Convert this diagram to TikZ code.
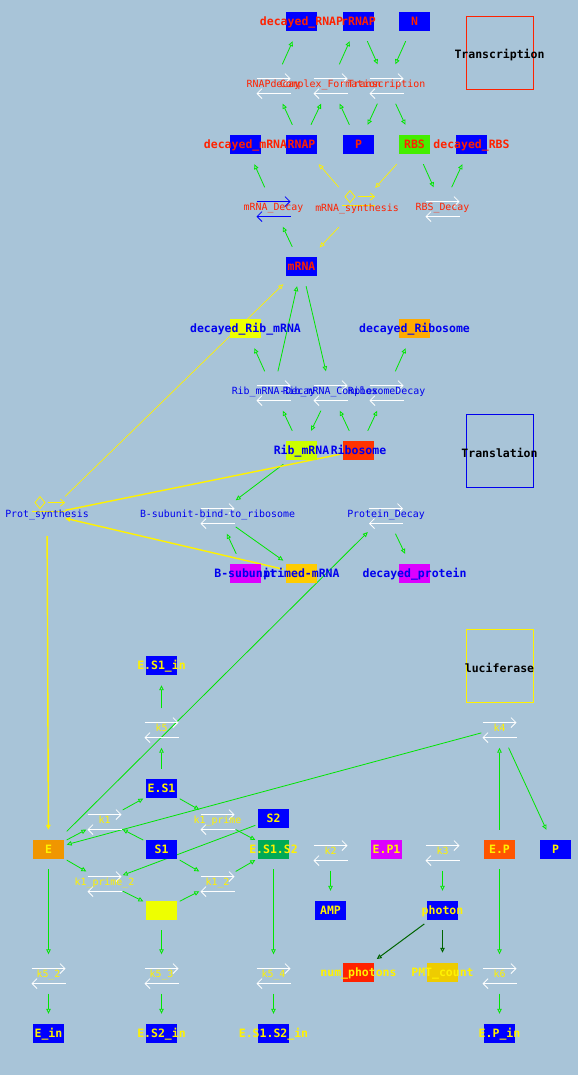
\documentclass[tikz,border=0pt]{standalone}
\usepackage{fontspec}
\setmonofont{DejaVu Sans Mono}
\usetikzlibrary{arrows.meta}
\pgfdeclarelayer{bg}
\pgfdeclarelayer{edges}
\pgfsetlayers{bg,edges,main}
\definecolor{bgc}{RGB}{168,196,216}
\definecolor{txred}{RGB}{255,34,0}
\definecolor{txblue}{RGB}{0,0,238}
\definecolor{boxblue}{RGB}{0,0,255}
\definecolor{lnk}{RGB}{0,230,0}
\definecolor{dkgreen}{RGB}{0,100,0}
\definecolor{rbsgreen}{RGB}{68,238,0}
\definecolor{lemon}{RGB}{238,255,0}
\definecolor{amber}{RGB}{255,170,0}
\definecolor{lime}{RGB}{204,255,0}
\definecolor{vermil}{RGB}{255,51,0}
\definecolor{magent}{RGB}{221,0,255}
\definecolor{gold}{RGB}{255,204,0}
\definecolor{eorange}{RGB}{240,150,0}
\definecolor{sgreen}{RGB}{0,170,85}
\definecolor{eporange}{RGB}{255,85,0}
\definecolor{pmtgold}{RGB}{238,204,0}
\newcommand{\spfont}{\ttfamily\bfseries\fontsize{11.5}{12}\selectfont}
\newcommand{\rxfont}{\ttfamily\fontsize{9.9}{10}\selectfont}

\begin{document}
\begin{tikzpicture}[x=1pt,y=-1pt,
  >={Triangle[open,length=5pt,width=4.5pt]},
  conn/.style={draw=lnk,line width=0.8pt,->},
  ylw/.style={draw=yellow,line width=0.7pt,->},
  ylwb/.style={draw=yellow,line width=1.4pt,->},
  dk/.style={draw=dkgreen,line width=1pt,->},
  sp/.style 2 args={minimum width=36pt,minimum height=39pt,inner sep=0pt,font=\spfont,text=#2,
    text height=8.4pt,text depth=0pt,
    execute at begin node={\hbox to 0pt\bgroup\hss},execute at end node={\hss\egroup},
    path picture={\fill[#1] ([xshift=-15.5pt,yshift=-9.5pt]path picture bounding box.center) rectangle ([xshift=15.5pt,yshift=9.5pt]path picture bounding box.center);}},
  rx/.style 2 args={minimum width=36pt,minimum height=39pt,inner sep=0pt,font=\rxfont,text=#2,
    text height=7.2pt,text depth=0pt,
    execute at begin node={\hbox to 0pt\bgroup\hss},execute at end node={\hss\egroup},
    path picture={\begin{scope}[shift={(path picture bounding box.center)},line width=0.8pt]
      \draw[#1,-{Straight Barb[length=5pt,width=10pt]}] (-17pt,9pt) -- (17pt,9pt);
      \draw[#1,-{Straight Barb[length=5pt,width=10pt]}] (17pt,-6pt) -- (-17pt,-6pt);
    \end{scope}}},
  syn/.style 2 args={minimum width=36pt,minimum height=44pt,inner sep=0pt,font=\rxfont,text=#2,
    text height=7.2pt,text depth=0pt,
    execute at begin node={\hbox to 0pt\bgroup\hss},execute at end node={\hss\egroup},
    path picture={\begin{scope}[shift={(path picture bounding box.center)},#1,line width=0.8pt]
      \draw (-7pt,21pt) -- (-2pt,15pt) -- (-7pt,9pt) -- (-12pt,15pt) -- cycle;
      \draw[-{Straight Barb[length=4pt,width=7pt]}] (1pt,15pt) -- (18pt,15pt);
      \draw (-15pt,6pt) -- (18pt,6pt);
    \end{scope}}},
  ttl/.style={draw=#1,line width=0.8pt,minimum width=67pt,minimum height=73pt,inner sep=0pt},
  lab/.style={font=\spfont,text=black}]
\useasboundingbox (0,0) rectangle (578,1075);
\begin{pgfonlayer}{bg}
\fill[bgc] (0,0) rectangle (578,1075);
\end{pgfonlayer}

%Transcription
\node[ttl=txred] (trbox) at (499.5,52.5) {};
\node[lab] (trlab) at (499.5,55) {Transcription};
\node[sp={boxblue}{txred}] (rRNAP) at (358.5,21.5) {rRNAP};
\node[sp={boxblue}{txred}] (decRNAP) at (301.5,21.5) {decayed\_RNAP};
\node[sp={boxblue}{txred}] (N) at (414.5,21.5) {N};
\node[sp={boxblue}{txred}] (RNAP) at (301.5,144.5) {RNAP};
\node[sp={boxblue}{txred}] (decmRNA) at (245.5,144.5) {decayed\_mRNA};
\node[sp={boxblue}{txred}] (P) at (358.5,144.5) {P};
\node[sp={rbsgreen}{txred}] (RBS) at (414.5,144.5) {RBS};
\node[sp={boxblue}{txred}] (decRBS) at (471.5,144.5) {decayed\_RBS};
\node[sp={boxblue}{txred}] (mRNA) at (301.5,266.5) {mRNA};
\node[rx={white}{txred}] (RNAPdecay) at (273.5,84) {RNAPdecay};
\node[rx={white}{txred}] (cplx) at (330.5,84) {Complex\_Formation};
\node[rx={white}{txred}] (transcr) at (386.5,84) {Transcription};
\node[rx={boxblue}{txred}] (mRNAdecay) at (273.5,207) {mRNA\_Decay};
\node[syn={yellow}{txred}] (mRNAsyn) at (357,208) {mRNA\_synthesis};
\node[rx={white}{txred}] (RBSdecay) at (442.5,207) {RBS\_Decay};

%Translation
\node[ttl=txblue] (tlbox) at (499.5,450.5) {};
\node[lab] (tllab) at (499.5,453) {Translation};
\node[sp={lemon}{txblue}] (decRibmRNA) at (245.5,328.5) {decayed\_Rib\_mRNA};
\node[sp={amber}{txblue}] (decRib) at (414.5,328.5) {decayed\_Ribosome};
\node[sp={lime}{txblue}] (RibmRNA) at (301.5,450.5) {Rib\_mRNA};
\node[sp={vermil}{txblue}] (Ribosome) at (358.5,450.5) {Ribosome};
\node[sp={magent}{txblue}] (Bsub) at (245.5,573.5) {B-subunit};
\node[sp={gold}{txblue}] (primed) at (301.5,573.5) {primed-mRNA};
\node[sp={magent}{txblue}] (decprot) at (414.5,573.5) {decayed\_protein};
\node[rx={white}{txblue}] (RibmRNAdecay) at (273.5,391) {Rib\_mRNA-Decay};
\node[rx={white}{txblue}] (RibmRNAcplx) at (330.5,391) {Rib\_mRNA\_Complex};
\node[rx={white}{txblue}] (Ribdecay) at (386.5,391) {RibosomeDecay};
\node[syn={yellow}{txblue}] (Protsyn) at (47,514) {Prot\_synthesis};
\node[rx={white}{txblue}] (Bbind) at (217.5,514) {B-subunit-bind-to\_ribosome};
\node[rx={white}{txblue}] (Protdecay) at (386,514) {Protein\_Decay};

%luciferase
\node[ttl=yellow] (lucbox) at (500,665.5) {};
\node[lab] (luclab) at (499.5,668) {luciferase};
\node[sp={boxblue}{yellow}] (ES1in) at (161.5,665.5) {E.S1\_in};
\node[sp={boxblue}{yellow}] (ES1) at (161.5,788.5) {E.S1};
\node[sp={eorange}{yellow}] (E) at (48.5,849.5) {E};
\node[sp={boxblue}{yellow}] (S1) at (161.5,849.5) {S1};
\node[sp={boxblue}{yellow}] (S2) at (273.5,818.5) {S2};
\node[sp={sgreen}{yellow}] (ES1S2) at (273.5,849.5) {E.S1.S2};
\node[sp={lemon}{yellow}] (ES2) at (161.5,910.5) {};
\node[sp={magent}{yellow}] (EP1) at (386.5,849.5) {E.P1};
\node[sp={eporange}{yellow}] (EP) at (499.5,849.5) {E.P};
\node[sp={boxblue}{yellow}] (lucP) at (555.5,849.5) {P};
\node[sp={boxblue}{yellow}] (AMP) at (330.5,910.5) {AMP};
\node[sp={boxblue}{yellow}] (photon) at (442.5,910.5) {photon};
\node[sp={txred}{yellow}] (numph) at (358.5,972.5) {num\_photons};
\node[sp={pmtgold}{yellow}] (PMT) at (442.5,972.5) {PMT\_count};
\node[sp={boxblue}{yellow}] (Ein) at (48.5,1033.5) {E\_in};
\node[sp={boxblue}{yellow}] (ES2in) at (161.5,1033.5) {E.S2\_in};
\node[sp={boxblue}{yellow}] (ES1S2in) at (273.5,1033.5) {E.S1.S2\_in};
\node[sp={boxblue}{yellow}] (EPin) at (499.5,1033.5) {E.P\_in};
\node[rx={white}{yellow}] (k5) at (161.5,728) {k5};
\node[rx={white}{yellow}] (k4) at (499.5,728) {k4};
\node[rx={white}{yellow}] (k1) at (104.5,820) {k1};
\node[rx={white}{yellow}] (k1p) at (217.5,820) {k1\_prime};
\node[rx={white}{yellow}] (k1p2) at (104.5,882) {k1\_prime\_2};
\node[rx={white}{yellow}] (k12) at (217.5,882) {k1\_2};
\node[rx={white}{yellow}] (k2) at (330.5,851) {k2};
\node[rx={white}{yellow}] (k3) at (442.5,851) {k3};
\node[rx={white}{yellow}] (k52) at (48.5,974) {k5\_2};
\node[rx={white}{yellow}] (k53) at (161.5,974) {k5\_3};
\node[rx={white}{yellow}] (k54) at (273.5,974) {k5\_4};
\node[rx={white}{yellow}] (k6) at (499.5,974) {k6};

\begin{pgfonlayer}{edges}
%Transcription
\draw[conn] (RNAP) -- (RNAPdecay);
\draw[conn] (RNAPdecay) -- (decRNAP);
\draw[conn] (RNAP) -- (cplx);
\draw[conn] (P) -- (cplx);
\draw[conn] (cplx) -- (rRNAP);
\draw[conn] (rRNAP) -- (transcr);
\draw[conn] (N) -- (transcr);
\draw[conn] (transcr) -- (P);
\draw[conn] (transcr) -- (RBS);
\draw[conn] (mRNA) -- (mRNAdecay);
\draw[conn] (mRNAdecay) -- (decmRNA);
\draw[conn] (RBS) -- (RBSdecay);
\draw[conn] (RBSdecay) -- (decRBS);
\draw[ylw] (mRNAsyn) -- (RNAP);
\draw[ylw] (RBS) -- (mRNAsyn);
\draw[ylw] (mRNAsyn) -- (mRNA);
%Translation
\draw[conn] (RibmRNA) -- (RibmRNAdecay);
\draw[conn] (RibmRNAdecay) -- (decRibmRNA);
\draw[conn] (RibmRNAdecay) -- (mRNA);
\draw[conn] (mRNA) -- (RibmRNAcplx);
\draw[conn] (RibmRNAcplx) -- (RibmRNA);
\draw[conn] (Ribosome) -- (RibmRNAcplx);
\draw[conn] (Ribosome) -- (Ribdecay);
\draw[conn] (Ribdecay) -- (decRib);
\draw[conn] (RibmRNA) -- (Bbind);
\draw[conn] (Bsub) -- (Bbind);
\draw[conn] (Bbind) -- (primed);
\draw[conn] (Protdecay) -- (decprot);
\draw[ylw] (Protsyn) -- (mRNA);
\draw[ylwb,-] (Ribosome) -- (Protsyn);
\draw[ylwb] (primed) -- (Protsyn);
\draw[ylwb] (Protsyn) -- (E);
%luciferase
\draw[conn] (E) -- (Protdecay);
\draw[conn] (E) -- (k1);
\draw[conn] (S1) -- (k1);
\draw[conn] (k1) -- (ES1);
\draw[conn] (ES1) -- (k1p);
\draw[conn] (k1p) -- (ES1S2);
\draw[conn] (E) -- (k1p2);
\draw[conn] (S2) -- (k1p2);
\draw[conn] (k1p2) -- (ES2);
\draw[conn] (S1) -- (k12);
\draw[conn] (ES2) -- (k12);
\draw[conn] (k12) -- (ES1S2);
\draw[conn] (ES1) -- (k5);
\draw[conn] (k5) -- (ES1in);
\draw[conn] (EP) -- (k4);
\draw[conn] (k4) -- (lucP);
\draw[conn] (k4) -- (E);
\draw[conn] (k2) -- (AMP);
\draw[conn] (k3) -- (photon);
\draw[conn] (E) -- (k52);
\draw[conn] (k52) -- (Ein);
\draw[conn] (ES2) -- (k53);
\draw[conn] (k53) -- (ES2in);
\draw[conn] (ES1S2) -- (k54);
\draw[conn] (k54) -- (ES1S2in);
\draw[conn] (EP) -- (k6);
\draw[conn] (k6) -- (EPin);
\draw[dk] (photon) -- (numph);
\draw[dk] (photon) -- (PMT);
\end{pgfonlayer}
\end{tikzpicture}
\end{document}
